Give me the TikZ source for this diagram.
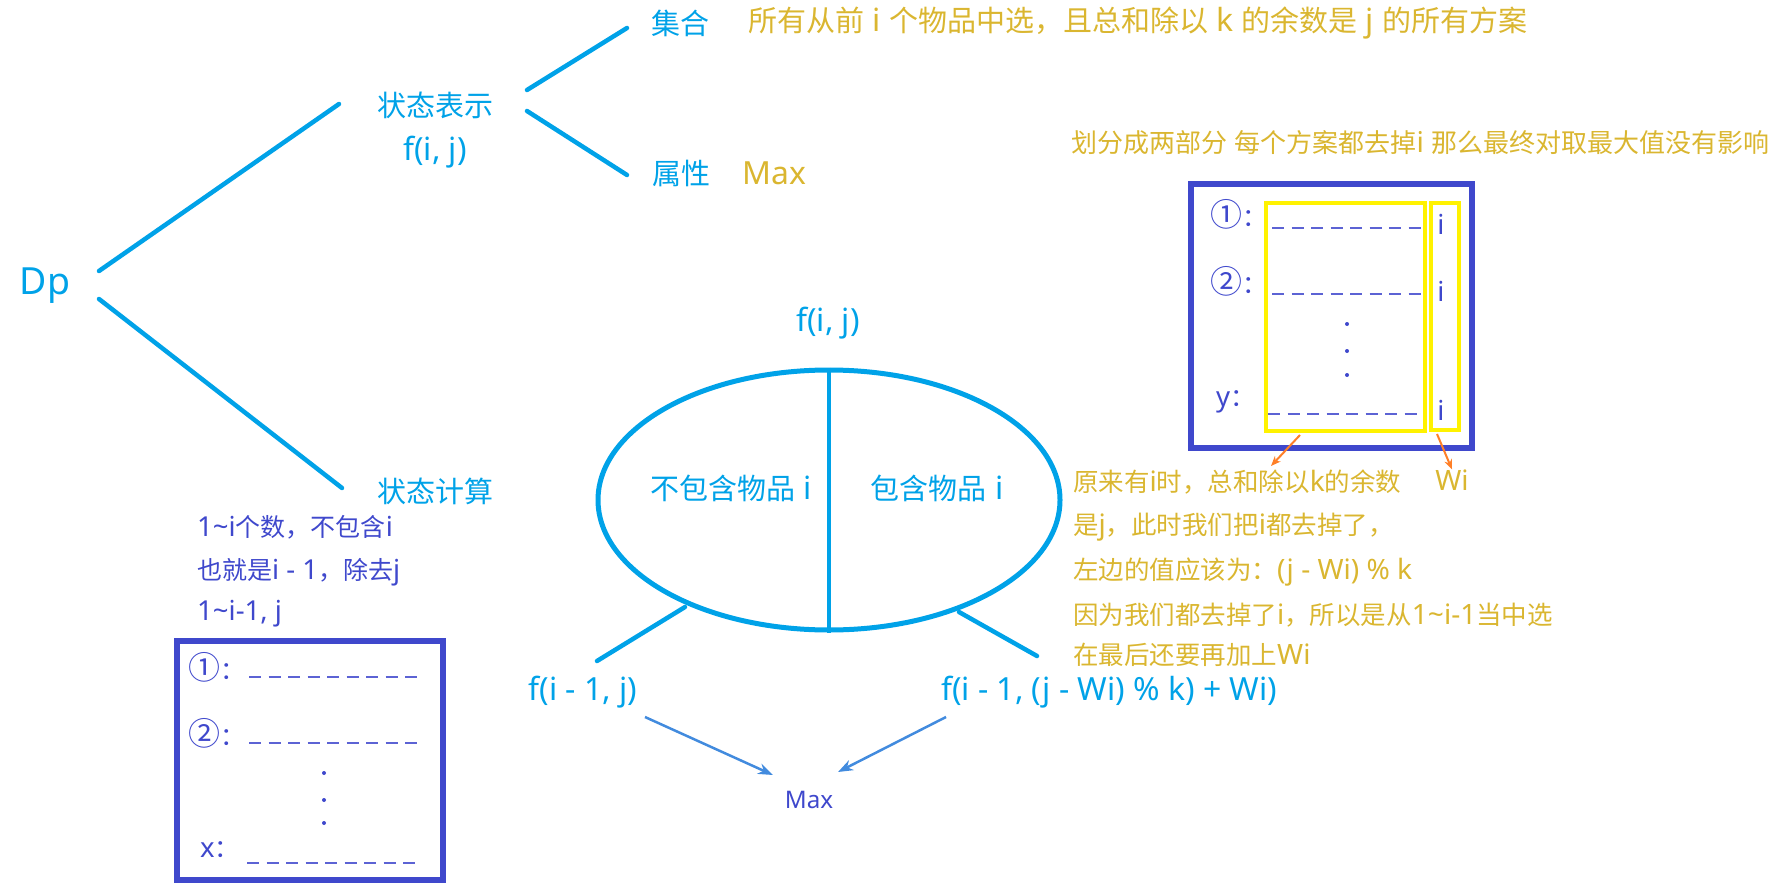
\documentclass[tikz,border=0pt]{standalone}
\usepackage{fontspec}
\setmainfont{Noto Sans}[Scale=1.1]
\newfontfamily\cjkfont{Noto Sans CJK SC}
% CJK characters switch to the CJK font by themselves
\newXeTeXintercharclass\hanclass
\newcount\hanpos
\newcommand\hanrange[2]{\hanpos=#1 \loop\XeTeXcharclass\hanpos=\hanclass \advance\hanpos by 1 \ifnum\hanpos<#2 \repeat}
\hanrange{"2460}{"2500}
\hanrange{"3000}{"3040}
\hanrange{"4E00}{"A000}
\hanrange{"FF00}{"FF60}
\XeTeXinterchartokenstate=1
\XeTeXinterchartoks 0 \hanclass={\cjkfont}
\XeTeXinterchartoks 4095 \hanclass={\cjkfont}
\XeTeXinterchartoks \hanclass 0={\normalfont}
\XeTeXinterchartoks \hanclass 4095={\normalfont}
\newcommand\bignum[1]{{\fontsize{32}{32}\selectfont#1}}
\usetikzlibrary{arrows.meta,shapes.geometric}
\definecolor{skyblue}{RGB}{0,162,232}
\definecolor{indigo}{RGB}{63,72,204}
\definecolor{goldtext}{RGB}{218,182,48}
\definecolor{hiyellow}{RGB}{255,242,0}
\definecolor{paintorange}{RGB}{255,127,39}
\definecolor{arrowblue}{RGB}{66,139,222}

\begin{document}
\begin{tikzpicture}[x=1pt,y=-1pt,
  lbl/.style={text=skyblue,font=\fontsize{29}{33}\selectfont,inner sep=0pt},
  gold/.style={text=goldtext,font=\fontsize{29}{33}\selectfont,inner sep=0pt},
  note/.style={text=goldtext,font=\fontsize{25.5}{29}\selectfont,inner sep=0pt,anchor=west},
  row/.style={text=indigo,font=\fontsize{25}{29}\selectfont,inner sep=0pt,anchor=west},
  tree/.style={skyblue,line width=4.5pt,line cap=round},
  blank/.style={indigo!85,line width=2pt,dash pattern=on 12pt off 7.5pt},
  frame/.style={indigo,line width=6pt},
  hilite/.style={hiyellow,line width=4pt},
  tag/.style={paintorange,line width=2pt,-{Stealth[length=10pt,width=8pt]}},
  pick/.style={arrowblue,line width=2.5pt,-{Stealth[length=15pt,width=11pt]}}]
  \useasboundingbox (0,0) rectangle (1771,885);

  % state tree
  \node[lbl,font=\fontsize{34}{38}\selectfont] (dp) at (45,286) {Dp};
  \node[lbl] (repr) at (435,105) {状态表示};
  \node[lbl] (reprf) at (435,152) {f(i, j)};
  \node[lbl] (calc) at (435,491) {状态计算};
  \node[lbl] (set) at (680,23) {集合};
  \node[gold,anchor=west] (setdesc) at (748,23) {所有从前 i 个物品中选，且总和除以 k 的余数是 j 的所有方案};
  \node[lbl] (attr) at (681,173) {属性};
  \node[gold,anchor=west] (attrval) at (742,173) {Max};

  \coordinate (dp-a) at (99,271);
  \coordinate (repr-a) at (339,104);
  \coordinate (dp-b) at (99,299);
  \coordinate (calc-a) at (342,488);
  \coordinate (repr-b) at (527,90);
  \coordinate (set-a) at (627,28);
  \coordinate (repr-c) at (527,111);
  \coordinate (attr-a) at (627,175);
  \draw[tree] (dp-a) -- (repr-a);
  \draw[tree] (dp-b) -- (calc-a);
  \draw[tree] (repr-b) -- (set-a);
  \draw[tree] (repr-c) -- (attr-a);

  % split of f(i,j)
  \node[lbl] (fij) at (828,323) {f(i, j)};
  \node[draw=skyblue,line width=5pt,ellipse,minimum width=462pt,minimum height=260pt] (split) at (829,500) {};
  \draw[tree,line cap=butt] (split.north) -- (split.south);
  \node[lbl] (noi) at (731,488) {不包含物品 i};
  \node[lbl] (withi) at (937,488) {包含物品 i};
  \node[lbl] (fl) at (583,692) {f(i - 1, j)};
  \node[lbl,anchor=west] (fr) at (941,692) {f(i - 1, (j - Wi) \% k) + Wi)};
  \node[text=indigo,font=\fontsize{22}{26}\selectfont,inner sep=0pt] (max) at (809,800) {Max};
  \coordinate (split-l) at (685,607);
  \coordinate (fl-a) at (597,661);
  \coordinate (split-r) at (959,612);
  \coordinate (fr-a) at (1037,656);
  \draw[tree] (split-l) -- (fl-a);
  \draw[tree] (split-r) -- (fr-a);
  \coordinate (fl-b) at (645,717);
  \coordinate (fr-b) at (946,717);
  \draw[pick] (fl-b) -- (773,775) coordinate (max-l);
  \draw[pick] (fr-b) -- (838,772) coordinate (max-r);

  % left list
  \node[row] (l1) at (197,527) {1\textasciitilde i个数，不包含i};
  \node[row] (l2) at (197,572) {也就是i - 1，除去j};
  \node[row] (l3) at (197,614) {1\textasciitilde i-1, j};
  \draw[frame] (177,641) rectangle (443,880);
  \node[row] (x1) at (188,667) {\bignum{①}：};
  \node[row] (x2) at (188,733) {\bignum{②}：};
  \node[row] (xn) at (200,850) {x：};
  \draw[blank] (249,677) -- (423,677);
  \draw[blank] (249,743) -- (423,743);
  \draw[blank] (247,863) -- (421,863);
  \foreach \y in {773,800,823}
    \fill[indigo] (324,\y) circle (2pt);

  % right list
  \node[note,font=\fontsize{26}{30}\selectfont] (hint) at (1071,143) {划分成两部分 每个方案都去掉i 那么最终对取最大值没有影响};
  \draw[frame] (1191,184) rectangle (1472,448);
  \draw[hilite] (1266,203) rectangle (1425,431);
  \draw[hilite] (1431,203) rectangle (1459,430);
  \node[row] (y1) at (1210,214) {\bignum{①}：};
  \node[row] (y2) at (1210,281) {\bignum{②}：};
  \node[row] (yn) at (1216,402) {y：};
  \draw[blank] (1272,228) -- (1423,228);
  \draw[blank] (1272,294) -- (1423,294);
  \draw[blank] (1268,414) -- (1419,414);
  \foreach \y/\n in {224/i1,291/i2,410/in}
    \node[row,anchor=center] (\n) at (1441,\y) {i};
  \foreach \y in {324,351,375}
    \fill[indigo] (1347,\y) circle (2pt);
  \coordinate (rest-a) at (1300,435);
  \coordinate (last-a) at (1437,434);
  \node[note,anchor=center] (wi) at (1452,480) {Wi};
  \draw[tag] (rest-a) -- (1271,466) coordinate (rest-b);
  \draw[tag] (last-a) -- (wi.north);

  % explanation
  \node[note] (n1) at (1073,482) {原来有i时，总和除以k的余数};
  \node[note] (n2) at (1073,527) {是j，此时我们把i都去掉了，};
  \node[note] (n3) at (1073,572) {左边的值应该为：(j - Wi) \% k};
  \node[note] (n4) at (1073,615) {因为我们都去掉了i，所以是从1\textasciitilde i-1当中选};
  \node[note] (n5) at (1073,655) {在最后还要再加上Wi};
\end{tikzpicture}
\end{document}
